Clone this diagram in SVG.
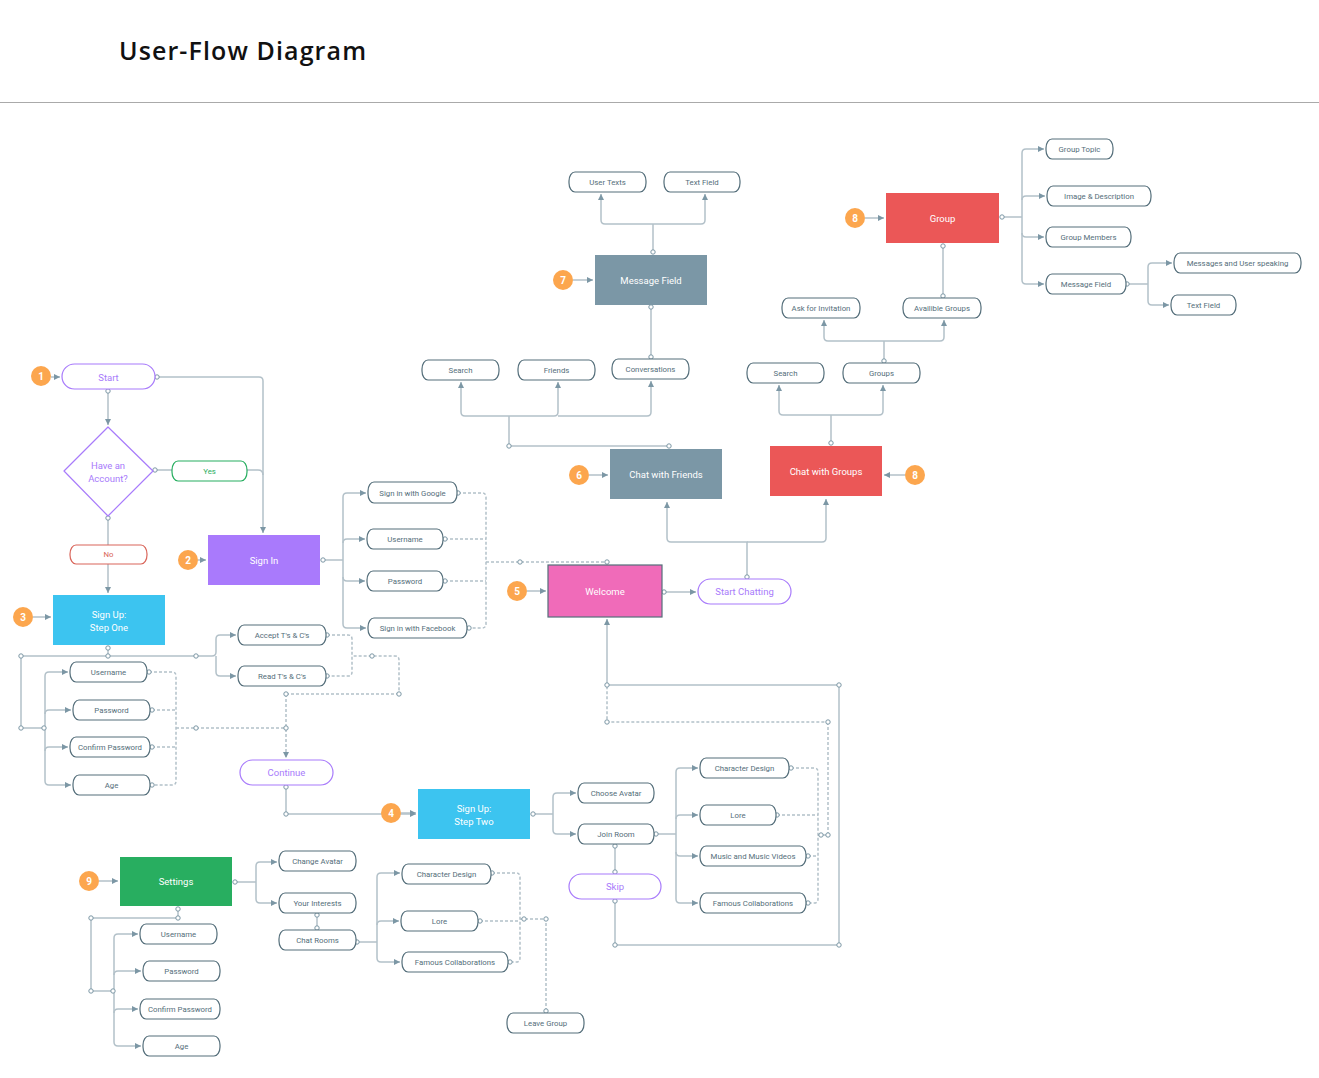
<svg xmlns="http://www.w3.org/2000/svg" width="1319" height="1078" viewBox="0 0 1319 1078">
<style>
.ln{fill:none;stroke:#b3c1c9;stroke-width:1.5}
.dl{fill:none;stroke:#b3c1c9;stroke-width:1.5;stroke-dasharray:3 2}
.ar{marker-end:url(#arr)}
.dot{fill:#fff;stroke:#7c97a5;stroke-width:1}
.pill{fill:#fff;stroke:#546e7a;stroke-width:1.2}
.pp{fill:#fff;stroke:#a87bfb;stroke-width:1.2}
.t{font-family:Roboto,"Liberation Sans",sans-serif;font-size:7.8px;fill:#546e7a;text-anchor:middle;dominant-baseline:central}
.tp{font-family:Roboto,"Liberation Sans",sans-serif;font-size:9.5px;fill:#a87bfb;text-anchor:middle;dominant-baseline:central}
.tw{font-family:Roboto,"Liberation Sans",sans-serif;font-size:9.5px;fill:#fff;text-anchor:middle;dominant-baseline:central}
.bd{fill:#fca64e}
.bt{font-family:Roboto,"Liberation Sans",sans-serif;font-size:10px;font-weight:bold;fill:#fff;text-anchor:middle;dominant-baseline:central}
</style>
<defs>
<marker id="arr" markerUnits="userSpaceOnUse" markerWidth="7" markerHeight="7" refX="6" refY="3" orient="auto">
<path d="M0,0 L6,3 L0,6 z" fill="#7c97a5"/>
</marker>
</defs>
<rect width="1319" height="1078" fill="#fff"/>
<text x="119" y="60" font-family="'Open Sans','Liberation Sans',sans-serif" font-size="25" font-weight="600" fill="#111" textLength="247">User-Flow Diagram</text>
<line x1="0" y1="102.5" x2="1319" y2="102.5" stroke="#aaa" stroke-width="1"/>

<g id="connectors">
<!-- badges -->
<path class="ln ar" d="M51,377 H60"/>
<path class="ln ar" d="M198,560 H206"/>
<path class="ln ar" d="M33,617 H51"/>
<path class="ln ar" d="M401,813 H416"/>
<path class="ln ar" d="M527,591 H546"/>
<path class="ln ar" d="M589,475 H608"/>
<path class="ln ar" d="M573,280 H593"/>
<path class="ln ar" d="M865,218 H884"/>
<path class="ln ar" d="M905,475 H884"/>
<path class="ln ar" d="M99,881 H118"/>
<!-- start -->
<path class="ln ar" d="M157,377 H259 Q263,377 263,381 V533"/>
<path class="ln" d="M247,470 H258 Q263,470 263,475"/>
<path class="ln" d="M155,470 H172"/>
<path class="ln ar" d="M108,391 V425"/>
<path class="ln" d="M108,518 V545"/>
<path class="ln ar" d="M108,564 V593"/>
<!-- sign up one -->
<path class="ln" d="M108,648 V656"/>
<path class="ln ar" d="M21,656 H212 Q216,656 216,652 V639 Q216,635 220,635 H236"/>
<path class="ln ar" d="M216,656 V672 Q216,676 220,676 H236"/>
<path class="ln" d="M21,656 V728 H45"/>
<path class="ln ar" d="M45,728 V676 Q45,672 49,672 H68"/>
<path class="ln ar" d="M45,728 V781 Q45,785 49,785 H71"/>
<path class="ln ar" d="M45,714 Q45,710 49,710 H71"/>
<path class="ln ar" d="M45,751 Q45,747 49,747 H68"/>
<path class="dl" d="M149,672 H172 Q176,672 176,676 V781 Q176,785 172,785 H152"/>
<path class="dl" d="M152,710 H176 M152,747 H176"/>
<path class="dl" d="M176,728 H286"/>
<path class="dl ar" d="M286,694 V758"/>
<path class="dl" d="M286,694 H395 Q399,694 399,690 V660 Q399,656 395,656 H352"/>
<path class="dl" d="M327,635 H348 Q352,635 352,639 V672 Q352,676 348,676 H327"/>
<!-- continue -->
<path class="ln ar" d="M286,787 V814 H416"/>
<!-- sign in -->
<path class="ln" d="M323,560 H343"/>
<path class="ln ar" d="M343,560 V497 Q343,493 347,493 H366"/>
<path class="ln ar" d="M343,560 V624 Q343,628 347,628 H366"/>
<path class="ln ar" d="M343,543 Q343,539 347,539 H365"/>
<path class="ln ar" d="M343,577 Q343,581 347,581 H365"/>
<path class="dl" d="M458,493 H482 Q486,493 486,497 V624 Q486,628 482,628 H469"/>
<path class="dl" d="M445,539 H486 M445,581 H486 M486,562 H607"/>
<!-- welcome -->
<path class="ln ar" d="M664,592 H696"/>
<path class="ln ar" d="M747,577 V542 H671 Q667,542 667,538 V502"/>
<path class="ln ar" d="M747,542 H822 Q826,542 826,538 V499"/>
<!-- chat with friends -->
<path class="ln" d="M509,446 H669"/>
<path class="ln" d="M509,446 V416"/>
<path class="ln ar" d="M509,416 H465 Q461,416 461,412 V382"/>
<path class="ln ar" d="M509,416 H554 Q558,416 558,412 V382"/>
<path class="ln ar" d="M558,416 H647 Q651,416 651,412 V381"/>
<path class="ln" d="M651,357 V307"/>
<path class="ln" d="M653,252 V224"/>
<path class="ln ar" d="M653,224 H605 Q601,224 601,220 V194"/>
<path class="ln ar" d="M653,224 H701 Q705,224 705,220 V194"/>
<!-- chat with groups -->
<path class="ln" d="M831,443 V415"/>
<path class="ln ar" d="M831,415 H783 Q779,415 779,411 V385"/>
<path class="ln ar" d="M831,415 H879 Q883,415 883,411 V385"/>
<path class="ln" d="M884,361 V341"/>
<path class="ln ar" d="M884,341 H828 Q824,341 824,337 V320"/>
<path class="ln ar" d="M884,341 H940 Q944,341 944,337 V320"/>
<path class="ln" d="M943,246 V296"/>
<!-- group -->
<path class="ln" d="M1002,217 H1022"/>
<path class="ln ar" d="M1022,217 V153 Q1022,149 1026,149 H1044"/>
<path class="ln ar" d="M1022,217 V280 Q1022,284 1026,284 H1044"/>
<path class="ln ar" d="M1022,200 Q1022,196 1026,196 H1045"/>
<path class="ln ar" d="M1022,233 Q1022,237 1026,237 H1044"/>
<path class="ln" d="M1127,284 H1148"/>
<path class="ln ar" d="M1148,284 V267 Q1148,263 1152,263 H1172"/>
<path class="ln ar" d="M1148,284 V301 Q1148,305 1152,305 H1169"/>
<!-- sign up two -->
<path class="ln" d="M533,814 H553"/>
<path class="ln ar" d="M553,814 V797 Q553,793 557,793 H576"/>
<path class="ln ar" d="M553,814 V830 Q553,834 557,834 H576"/>
<path class="ln" d="M615,846 V872"/>
<path class="ln" d="M615,901 V945 H839 V685 H607"/>
<path class="ln ar" d="M607,685 V619"/>
<path class="ln" d="M656,834 H676"/>
<path class="ln ar" d="M676,834 V772 Q676,768 680,768 H698"/>
<path class="ln ar" d="M676,834 V899 Q676,903 680,903 H698"/>
<path class="ln ar" d="M676,819 Q676,815 680,815 H698"/>
<path class="ln ar" d="M676,852 Q676,856 680,856 H698"/>
<path class="dl" d="M791,768 H814 Q818,768 818,772 V899 Q818,903 814,903 H808"/>
<path class="dl" d="M777,815 H818 M808,856 H818"/>
<path class="dl" d="M818,835 H828 V726 Q828,722 824,722 H607 V685"/>
<!-- settings -->
<path class="ln" d="M235,882 H256"/>
<path class="ln ar" d="M256,882 V866 Q256,862 260,862 H277"/>
<path class="ln ar" d="M256,882 V899 Q256,903 260,903 H277"/>
<path class="ln" d="M317,915 V928"/>
<path class="ln" d="M178,909 V918 H91 V991 H114"/>
<path class="ln ar" d="M114,991 V938 Q114,934 118,934 H138"/>
<path class="ln ar" d="M114,991 V1042 Q114,1046 118,1046 H141"/>
<path class="ln ar" d="M114,975 Q114,971 118,971 H141"/>
<path class="ln ar" d="M114,1013 Q114,1009 118,1009 H138"/>
<path class="ln" d="M357,942 H377"/>
<path class="ln ar" d="M377,942 V877 Q377,873 381,873 H400"/>
<path class="ln ar" d="M377,942 V958 Q377,962 381,962 H400"/>
<path class="ln ar" d="M377,925 Q377,921 381,921 H399"/>
<path class="dl" d="M492,873 H516 Q520,873 520,877 V958 Q520,962 516,962 H510"/>
<path class="dl" d="M480,921 H520 M520,919 H546 V1011"/>
<!-- connection dots -->
<g class="dot">
<circle cx="157" cy="377" r="2.2"/><circle cx="108" cy="391" r="2.2"/><circle cx="155" cy="470" r="2.2"/><circle cx="108" cy="518" r="2.2"/>
<circle cx="323" cy="560" r="2.2"/>
<circle cx="108" cy="648" r="2.2"/><circle cx="108" cy="656" r="2.2"/><circle cx="21" cy="656" r="2.2"/><circle cx="196" cy="656" r="2.2"/>
<circle cx="21" cy="728" r="2.2"/><circle cx="44" cy="728" r="2.2"/>
<circle cx="149" cy="672" r="2.2"/><circle cx="152" cy="710" r="2.2"/><circle cx="152" cy="747" r="2.2"/><circle cx="152" cy="785" r="2.2"/>
<circle cx="196" cy="728" r="2.2"/><circle cx="286" cy="728" r="2.2"/><circle cx="286" cy="694" r="2.2"/><circle cx="399" cy="694" r="2.2"/><circle cx="372" cy="656" r="2.2"/>
<circle cx="327" cy="635" r="2.2"/><circle cx="327" cy="676" r="2.2"/>
<circle cx="286" cy="787" r="2.2"/><circle cx="286" cy="814" r="2.2"/>
<circle cx="458" cy="493" r="2.2"/><circle cx="445" cy="539" r="2.2"/><circle cx="445" cy="581" r="2.2"/><circle cx="469" cy="628" r="2.2"/><circle cx="520" cy="562" r="2.2"/><circle cx="607" cy="562" r="2.2"/>
<circle cx="664" cy="592" r="2.2"/><circle cx="747" cy="577" r="2.2"/>
<circle cx="509" cy="446" r="2.2"/><circle cx="669" cy="446" r="2.2"/>
<circle cx="651" cy="357" r="2.2"/><circle cx="651" cy="307" r="2.2"/><circle cx="653" cy="252" r="2.2"/>
<circle cx="831" cy="443" r="2.2"/><circle cx="884" cy="361" r="2.2"/><circle cx="943" cy="246" r="2.2"/><circle cx="943" cy="296" r="2.2"/>
<circle cx="1002" cy="217" r="2.2"/><circle cx="1127" cy="284" r="2.2"/>
<circle cx="533" cy="814" r="2.2"/><circle cx="615" cy="846" r="2.2"/><circle cx="615" cy="872" r="2.2"/><circle cx="615" cy="901" r="2.2"/>
<circle cx="615" cy="945" r="2.2"/><circle cx="839" cy="945" r="2.2"/><circle cx="839" cy="685" r="2.2"/><circle cx="607" cy="685" r="2.2"/>
<circle cx="656" cy="834" r="2.2"/>
<circle cx="791" cy="768" r="2.2"/><circle cx="777" cy="815" r="2.2"/><circle cx="808" cy="856" r="2.2"/><circle cx="808" cy="903" r="2.2"/>
<circle cx="821" cy="835" r="2.2"/><circle cx="828" cy="835" r="2.2"/><circle cx="828" cy="722" r="2.2"/><circle cx="607" cy="722" r="2.2"/>
<circle cx="235" cy="882" r="2.2"/><circle cx="317" cy="915" r="2.2"/><circle cx="317" cy="928" r="2.2"/>
<circle cx="178" cy="909" r="2.2"/><circle cx="178" cy="918" r="2.2"/><circle cx="91" cy="918" r="2.2"/><circle cx="91" cy="991" r="2.2"/><circle cx="113" cy="991" r="2.2"/>
<circle cx="357" cy="942" r="2.2"/>
<circle cx="492" cy="873" r="2.2"/><circle cx="480" cy="921" r="2.2"/><circle cx="510" cy="962" r="2.2"/><circle cx="524" cy="919" r="2.2"/><circle cx="546" cy="919" r="2.2"/><circle cx="546" cy="1011" r="2.2"/>
</g>
</g>

<g id="badges">
<g id="b1"><circle class="bd" cx="41" cy="376" r="10"/><text class="bt" x="41" y="376">1</text></g>
<g id="b2"><circle class="bd" cx="188" cy="560" r="10"/><text class="bt" x="188" y="560">2</text></g>
<g id="b3"><circle class="bd" cx="23" cy="617" r="10"/><text class="bt" x="23" y="617">3</text></g>
<g id="b4"><circle class="bd" cx="391" cy="813" r="10"/><text class="bt" x="391" y="813">4</text></g>
<g id="b5"><circle class="bd" cx="517" cy="591" r="10"/><text class="bt" x="517" y="591">5</text></g>
<g id="b6"><circle class="bd" cx="579" cy="475" r="10"/><text class="bt" x="579" y="475">6</text></g>
<g id="b7"><circle class="bd" cx="563" cy="280" r="10"/><text class="bt" x="563" y="280">7</text></g>
<g id="b8a"><circle class="bd" cx="855" cy="218" r="10"/><text class="bt" x="855" y="218">8</text></g>
<g id="b8b"><circle class="bd" cx="915" cy="475" r="10"/><text class="bt" x="915" y="475">8</text></g>
<g id="b9"><circle class="bd" cx="89" cy="881" r="10"/><text class="bt" x="89" y="881">9</text></g>
</g>

<g id="n-start"><rect class="pp" x="62" y="364" width="93" height="25" rx="12.5"/><text class="tp" x="108.5" y="377">Start</text></g>
<g id="n-account"><path d="M108,427 L153,471 L108,516 L64,471 Z" fill="#fff" stroke="#a87bfb" stroke-width="1.2" stroke-linejoin="round"/><text class="tp" x="108" y="465" font-size="9">Have an</text><text class="tp" x="108" y="478" font-size="9">Account?</text></g>
<g id="n-yes"><rect x="172" y="461" width="75" height="20" rx="6" ry="9" fill="#fff" stroke="#27ae60" stroke-width="1.2"/><text class="t" x="209.5" y="471" fill="#27ae60" style="fill:#27ae60">Yes</text></g>
<g id="n-no"><rect x="70" y="545" width="77" height="19" rx="6" ry="9" fill="#fff" stroke="#d9655a" stroke-width="1.2"/><text class="t" x="108.5" y="554.5" style="fill:#d9655a">No</text></g>
<g id="n-signin"><rect x="208" y="535" width="112" height="50" fill="#a97afc"/><text class="tw" x="264" y="560">Sign In</text></g>
<g id="n-signup1"><rect x="53" y="595" width="112" height="50" fill="#3cc4f0"/><text class="tw" x="109" y="614">Sign Up:</text><text class="tw" x="109" y="627">Step One</text></g>
<g id="n-su-username"><rect class="pill" x="70" y="662" width="77" height="20" rx="6" ry="9"/><text class="t" x="108.5" y="672">Username</text></g>
<g id="n-su-password"><rect class="pill" x="73" y="700" width="77" height="20" rx="6" ry="9"/><text class="t" x="111.5" y="710">Password</text></g>
<g id="n-su-confirm"><rect class="pill" x="70" y="737" width="80" height="20" rx="6" ry="9"/><text class="t" x="110" y="747">Confirm Password</text></g>
<g id="n-su-age"><rect class="pill" x="73" y="775" width="77" height="20" rx="6" ry="9"/><text class="t" x="111.5" y="785">Age</text></g>
<g id="n-accept"><rect class="pill" x="238" y="625" width="88" height="20" rx="6" ry="9"/><text class="t" x="282" y="635">Accept T's &amp; C's</text></g>
<g id="n-read"><rect class="pill" x="238" y="666" width="88" height="20" rx="6" ry="9"/><text class="t" x="282" y="676">Read T's &amp; C's</text></g>
<g id="n-continue"><rect class="pp" x="240" y="760" width="93" height="25" rx="12.5"/><text class="tp" x="286.5" y="772.5">Continue</text></g>
<g id="n-google"><rect class="pill" x="368" y="482" width="89" height="21" rx="6" ry="9"/><text class="t" x="412.5" y="493">Sign in with Google</text></g>
<g id="n-si-username"><rect class="pill" x="367" y="529" width="76" height="20" rx="6" ry="9"/><text class="t" x="405" y="539">Username</text></g>
<g id="n-si-password"><rect class="pill" x="367" y="571" width="76" height="20" rx="6" ry="9"/><text class="t" x="405" y="581">Password</text></g>
<g id="n-facebook"><rect class="pill" x="368" y="618" width="99" height="20" rx="6" ry="9"/><text class="t" x="417.5" y="628">Sign in with Facebook</text></g>
<g id="n-welcome"><rect x="548" y="565" width="114" height="52" fill="#f06bb9" stroke="#546e7a" stroke-width="1.2"/><text class="tw" x="605" y="591">Welcome</text></g>
<g id="n-startchat"><rect class="pp" x="698" y="579" width="93" height="25" rx="12.5"/><text class="tp" x="744.5" y="591.5">Start Chatting</text></g>
<g id="n-chatfriends"><rect x="610" y="449" width="112" height="50" fill="#7b97a6"/><text class="tw" x="666" y="474">Chat with Friends</text></g>
<g id="n-chatgroups"><rect x="770" y="446" width="112" height="50" fill="#eb5757"/><text class="tw" x="826" y="471">Chat with Groups</text></g>
<g id="n-f-search"><rect class="pill" x="422" y="360" width="77" height="20" rx="6" ry="9"/><text class="t" x="460.5" y="370">Search</text></g>
<g id="n-friends"><rect class="pill" x="518" y="360" width="77" height="20" rx="6" ry="9"/><text class="t" x="556.5" y="370">Friends</text></g>
<g id="n-conversations"><rect class="pill" x="612" y="359" width="77" height="20" rx="6" ry="9"/><text class="t" x="650.5" y="369">Conversations</text></g>
<g id="n-msgfield"><rect x="595" y="255" width="112" height="50" fill="#7b97a6"/><text class="tw" x="651" y="280">Message Field</text></g>
<g id="n-usertexts"><rect class="pill" x="569" y="172" width="77" height="20" rx="6" ry="9"/><text class="t" x="607.5" y="182">User Texts</text></g>
<g id="n-textfield"><rect class="pill" x="664" y="172" width="76" height="20" rx="6" ry="9"/><text class="t" x="702" y="182">Text Field</text></g>
<g id="n-g-search"><rect class="pill" x="747" y="363" width="77" height="20" rx="6" ry="9"/><text class="t" x="785.5" y="373">Search</text></g>
<g id="n-groups"><rect class="pill" x="843" y="363" width="77" height="20" rx="6" ry="9"/><text class="t" x="881.5" y="373">Groups</text></g>
<g id="n-ask"><rect class="pill" x="782" y="298" width="78" height="20" rx="6" ry="9"/><text class="t" x="821" y="308">Ask for Invitation</text></g>
<g id="n-avail"><rect class="pill" x="903" y="298" width="78" height="20" rx="6" ry="9"/><text class="t" x="942" y="308">Availible Groups</text></g>
<g id="n-group"><rect x="886" y="193" width="113" height="50" fill="#eb5757"/><text class="tw" x="942.5" y="218">Group</text></g>
<g id="n-grouptopic"><rect class="pill" x="1046" y="139" width="67" height="20" rx="6" ry="9"/><text class="t" x="1079.5" y="149">Group Topic</text></g>
<g id="n-imagedesc"><rect class="pill" x="1047" y="186" width="104" height="20" rx="6" ry="9"/><text class="t" x="1099" y="196">Image &amp; Description</text></g>
<g id="n-members"><rect class="pill" x="1046" y="227" width="85" height="20" rx="6" ry="9"/><text class="t" x="1088.5" y="237">Group Members</text></g>
<g id="n-g-msgfield"><rect class="pill" x="1046" y="274" width="80" height="20" rx="6" ry="9"/><text class="t" x="1086" y="284">Message Field</text></g>
<g id="n-msgspeaking"><rect class="pill" x="1174" y="253" width="127" height="20" rx="6" ry="9"/><text class="t" x="1237.5" y="263">Messages and User speaking</text></g>
<g id="n-g-textfield"><rect class="pill" x="1171" y="295" width="65" height="20" rx="6" ry="9"/><text class="t" x="1203.5" y="305">Text Field</text></g>
<g id="n-signup2"><rect x="418" y="789" width="112" height="50" fill="#3cc4f0"/><text class="tw" x="474" y="808">Sign Up:</text><text class="tw" x="474" y="821">Step Two</text></g>
<g id="n-avatar"><rect class="pill" x="578" y="783" width="76" height="20" rx="6" ry="9"/><text class="t" x="616" y="793">Choose Avatar</text></g>
<g id="n-joinroom"><rect class="pill" x="578" y="824" width="76" height="20" rx="6" ry="9"/><text class="t" x="616" y="834">Join Room</text></g>
<g id="n-skip"><rect class="pp" x="569" y="874" width="92" height="25" rx="12.5"/><text class="tp" x="615" y="886.5">Skip</text></g>
<g id="n-j-chardesign"><rect class="pill" x="700" y="758" width="89" height="20" rx="6" ry="9"/><text class="t" x="744.5" y="768">Character Design</text></g>
<g id="n-j-lore"><rect class="pill" x="700" y="805" width="76" height="20" rx="6" ry="9"/><text class="t" x="738" y="815">Lore</text></g>
<g id="n-j-music"><rect class="pill" x="700" y="846" width="106" height="20" rx="6" ry="9"/><text class="t" x="753" y="856">Music and Music Videos</text></g>
<g id="n-j-famous"><rect class="pill" x="700" y="893" width="106" height="20" rx="6" ry="9"/><text class="t" x="753" y="903">Famous Collaborations</text></g>
<g id="n-settings"><rect x="120" y="857" width="112" height="49" fill="#28ae60"/><text class="tw" x="176" y="881.5">Settings</text></g>
<g id="n-changeavatar"><rect class="pill" x="279" y="851" width="77" height="20" rx="6" ry="9"/><text class="t" x="317.5" y="861">Change Avatar</text></g>
<g id="n-interests"><rect class="pill" x="279" y="893" width="77" height="20" rx="6" ry="9"/><text class="t" x="317.5" y="903">Your Interests</text></g>
<g id="n-chatrooms"><rect class="pill" x="279" y="930" width="77" height="20" rx="6" ry="9"/><text class="t" x="317.5" y="940">Chat Rooms</text></g>
<g id="n-s-username"><rect class="pill" x="140" y="924" width="77" height="20" rx="6" ry="9"/><text class="t" x="178.5" y="934">Username</text></g>
<g id="n-s-password"><rect class="pill" x="143" y="961" width="77" height="20" rx="6" ry="9"/><text class="t" x="181.5" y="971">Password</text></g>
<g id="n-s-confirm"><rect class="pill" x="140" y="999" width="80" height="20" rx="6" ry="9"/><text class="t" x="180" y="1009">Confirm Password</text></g>
<g id="n-s-age"><rect class="pill" x="143" y="1036" width="77" height="20" rx="6" ry="9"/><text class="t" x="181.5" y="1046">Age</text></g>
<g id="n-c-chardesign"><rect class="pill" x="402" y="864" width="89" height="20" rx="6" ry="9"/><text class="t" x="446.5" y="874">Character Design</text></g>
<g id="n-c-lore"><rect class="pill" x="401" y="911" width="77" height="20" rx="6" ry="9"/><text class="t" x="439.5" y="921">Lore</text></g>
<g id="n-c-famous"><rect class="pill" x="402" y="952" width="106" height="20" rx="6" ry="9"/><text class="t" x="455" y="962">Famous Collaborations</text></g>
<g id="n-leavegroup"><rect class="pill" x="507" y="1013" width="77" height="20" rx="6" ry="9"/><text class="t" x="545.5" y="1023">Leave Group</text></g>
</svg>
